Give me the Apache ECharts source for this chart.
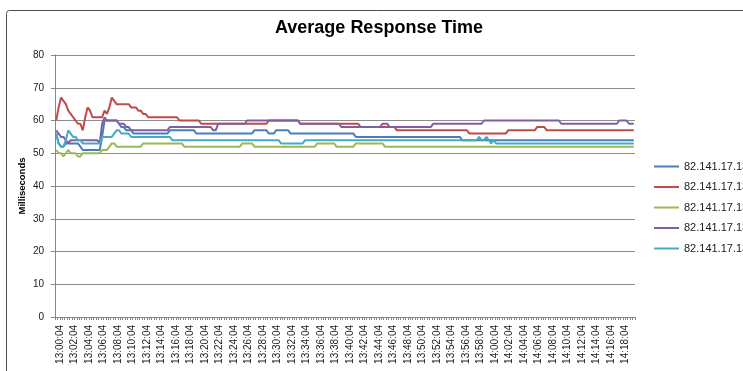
<!DOCTYPE html>
<html>
<head>
<meta charset="utf-8">
<script src="https://cdn.jsdelivr.net/npm/echarts@6/dist/echarts.min.js"></script>
<style>
  html, body { margin: 0; padding: 0; background: #ffffff; }
  #chart { width: 743px; height: 371px; }
</style>
</head>
<body>
<div id="chart"></div>
<script>
// Sample times: one reading every 20 seconds from 13:00:04
const times = [];
for (let m = 0; m < 80; m++) {
  for (const s of ['04', '24', '44']) {
    const h = 13 + Math.floor(m / 60);
    times.push(h + ':' + String(m % 60).padStart(2, '0') + ':' + s);
  }
}

const serverNames = ['82.141.17.131', '82.141.17.132', '82.141.17.133', '82.141.17.134', '82.141.17.135'];

// Average response time per server (ms)
const server1 = [
  56,53,52,52,53,53,53,53,53,53, 52,51,51,51,51,51,51,51,51,55,
  60,60,60,60,60,60,59,58,58,57, 57,57,56,56,56,56,56,56,56,56,
  56,56,56,56,56,56,56,57,57,57, 57,57,57,57,57,57,57,57,56,56,
  56,56,56,56,56,56,56,56,56,56, 56,56,56,56,56,56,56,56,56,56,
  56,56,57,57,57,57,57,57,56,56, 56,57,57,57,57,57,57,56,56,56,
  56,56,56,56,56,56,56,56,56,56, 56,56,56,56,56,56,56,56,56,56,
  56,56,56,56,55,55,55,55,55,55, 55,55,55,55,55,55,55,55,55,55,
  55,55,55,55,55,55,55,55,55,55, 55,55,55,55,55,55,55,55,55,55,
  55,55,55,55,55,55,55,55,54,54, 54,54,54,54,54,54,54,54,54,54,
  54,54,54,54,54,54,54,54,54,54, 54,54,54,54,54,54,54,54,54,54,
  54,54,54,54,54,54,54,54,54,54, 54,54,54,54,54,54,54,54,54,54,
  54,54,54,54,54,54,54,54,54,54, 54,54,54,54,54,54,54,54,54,54
];
const server2 = [
  60,64,67,66,65,63,62,61,60,59, 59,57,61,64,63,61,61,61,61,61,
  63,62,64,67,66,65,65,65,65,65, 65,64,64,64,63,63,62,62,61,61,
  61,61,61,61,61,61,61,61,61,61, 61,60,60,60,60,60,60,60,60,60,
  59,59,59,59,59,59,59,59,59,59, 59,59,59,59,59,59,59,59,59,59,
  59,59,59,59,59,59,59,59,60,60, 60,60,60,60,60,60,60,60,60,60,
  60,59,59,59,59,59,59,59,59,59, 59,59,59,59,59,59,59,59,59,59,
  59,59,59,59,59,59,58,58,58,58, 58,58,58,58,58,58,58,58,58,58,
  58,57,57,57,57,57,57,57,57,57, 57,57,57,57,57,57,57,57,57,57,
  57,57,57,57,57,57,57,57,57,57, 57,56,56,56,56,56,56,56,56,56,
  56,56,56,56,56,56,56,57,57,57, 57,57,57,57,57,57,57,57,57,58,
  58,58,58,57,57,57,57,57,57,57, 57,57,57,57,57,57,57,57,57,57,
  57,57,57,57,57,57,57,57,57,57, 57,57,57,57,57,57,57,57,57,57
];
const server3 = [
  51,50,50,49,50,51,50,50,50,49, 49,50,50,50,50,50,50,50,50,51,
  51,51,52,53,53,52,52,52,52,52, 52,52,52,52,52,52,53,53,53,53,
  53,53,53,53,53,53,53,53,53,53, 53,53,53,52,52,52,52,52,52,52,
  52,52,52,52,52,52,52,52,52,52, 52,52,52,52,52,52,52,53,53,53,
  53,53,52,52,52,52,52,52,52,52, 52,52,52,52,52,52,52,52,52,52,
  52,52,52,52,52,52,52,52,53,53, 53,53,53,53,53,53,52,52,52,52,
  52,52,52,52,53,53,53,53,53,53, 53,53,53,53,53,53,52,52,52,52,
  52,52,52,52,52,52,52,52,52,52, 52,52,52,52,52,52,52,52,52,52,
  52,52,52,52,52,52,52,52,52,52, 52,52,52,52,52,52,52,52,52,52,
  52,52,52,52,52,52,52,52,52,52, 52,52,52,52,52,52,52,52,52,52,
  52,52,52,52,52,52,52,52,52,52, 52,52,52,52,52,52,52,52,52,52,
  52,52,52,52,52,52,52,52,52,52, 52,52,52,52,52,52,52,52,52,52
];
const server4 = [
  57,56,55,55,54,53,54,54,54,54, 54,54,54,54,54,54,54,54,53,59,
  61,60,60,60,60,60,59,59,59,58, 58,57,57,57,57,57,57,57,57,57,
  57,57,57,57,57,57,57,58,58,58, 58,58,58,58,58,58,58,58,58,58,
  58,58,58,58,58,57,57,59,59,59, 59,59,59,59,59,59,59,59,59,60,
  60,60,60,60,60,60,60,60,60,60, 60,60,60,60,60,60,60,60,60,60,
  60,59,59,59,59,59,59,59,59,59, 59,59,59,59,59,59,59,59,58,58,
  58,58,58,58,58,58,58,58,58,58, 58,58,58,58,58,59,59,59,58,58,
  58,58,58,58,58,58,58,58,58,58, 58,58,58,58,58,58,59,59,59,59,
  59,59,59,59,59,59,59,59,59,59, 59,59,59,59,59,59,59,60,60,60,
  60,60,60,60,60,60,60,60,60,60, 60,60,60,60,60,60,60,60,60,60,
  60,60,60,60,60,60,60,60,60,59, 59,59,59,59,59,59,59,59,59,59,
  59,59,59,59,59,59,59,59,59,59, 59,59,59,60,60,60,60,59,59,59
];
const server5 = [
  56,53,52,52,54,57,56,55,55,54, 54,53,53,53,53,53,53,53,53,55,
  55,55,55,55,56,57,57,56,56,56, 56,55,55,55,55,55,55,55,55,55,
  55,55,55,55,55,55,55,55,54,54, 54,54,54,54,54,54,54,54,54,54,
  54,54,54,54,54,54,54,54,54,54, 54,54,54,54,54,54,54,54,54,54,
  54,54,54,54,54,54,54,54,54,54, 54,54,54,53,53,53,53,53,53,53,
  53,53,53,54,54,54,54,54,54,54, 54,54,54,54,54,54,54,54,54,54,
  54,54,54,54,54,54,54,54,54,54, 54,54,54,54,54,54,54,54,54,54,
  54,54,54,54,54,54,54,54,54,54, 54,54,54,54,54,54,54,54,54,54,
  54,54,54,54,54,54,54,54,54,54, 54,54,54,54,54,55,54,54,55,54,
  53,54,53,53,53,53,53,53,53,53, 53,53,53,53,53,53,53,53,53,53,
  53,53,53,53,53,53,53,53,53,53, 53,53,53,53,53,53,53,53,53,53,
  53,53,53,53,53,53,53,53,53,53, 53,53,53,53,53,53,53,53,53,53
];

const seriesValues = [server1, server2, server3, server4, server5];
const lineColors = ['#4A7EBB', '#BE4B48', '#98B954', '#7D60A0', '#46AAC5'];
const yTicks = { min: 0, max: 80, step: 10 };

const font = 'Liberation Sans, Arial, sans-serif';
const chart = echarts.init(document.getElementById('chart'), null, { renderer: 'canvas' });

chart.setOption({
  animation: false,
  backgroundColor: '#ffffff',
  title: {
    text: 'Average Response Time',
    left: 275,
    top: 19,
    padding: 0,
    textStyle: { fontFamily: font, fontSize: 18, fontWeight: 'bold', color: '#000000' }
  },
  graphic: [{
    type: 'rect',
    silent: true,
    shape: { x: 6.5, y: 10.5, width: 900, height: 600, r: 3 },
    style: { fill: 'none', stroke: '#4d4d4d', lineWidth: 1 }
  }],
  legend: {
    orient: 'vertical',
    left: 654,
    top: 161,
    padding: 0,
    itemWidth: 25,
    itemHeight: 2,
    itemGap: 9.5,
    icon: 'rect',
    textStyle: { fontFamily: font, fontSize: 11, color: '#1a1a1a', width: 120, overflow: 'none' },
    data: serverNames
  },
  grid: { left: 55, top: 55, width: 580, height: 262, containLabel: false },
  xAxis: {
    type: 'category',
    data: times,
    boundaryGap: true,
    axisLine: { lineStyle: { color: '#868686', width: 1 } },
    axisTick: { show: true, interval: 0, length: 3, lineStyle: { color: '#868686' } },
    axisLabel: {
      interval: 5,
      rotate: 90,
      margin: 8,
      verticalAlign: 'top',
      lineHeight: 8,
      fontFamily: font,
      fontSize: 10,
      color: '#1a1a1a'
    },
    splitLine: { show: false }
  },
  yAxis: {
    type: 'value',
    min: yTicks.min,
    max: yTicks.max,
    interval: yTicks.step,
    name: 'Milliseconds',
    nameLocation: 'middle',
    nameRotate: 90,
    nameGap: 28,
    nameMoveOverlap: false,
    nameTextStyle: { fontFamily: font, fontSize: 9.5, fontWeight: 'bold', color: '#000000' },
    axisLine: { show: true, lineStyle: { color: '#868686', width: 1 } },
    axisTick: { show: true, length: 4, lineStyle: { color: '#868686' } },
    axisLabel: { margin: 11, fontFamily: font, fontSize: 10, color: '#1a1a1a' },
    splitLine: { show: true, lineStyle: { color: '#8c8c8c', width: 1 } }
  },
  series: seriesValues.map((vals, k) => ({
    name: serverNames[k],
    type: 'line',
    data: vals,
    symbol: 'none',
    smooth: false,
    lineStyle: { color: lineColors[k], width: 2 },
    itemStyle: { color: lineColors[k] }
  }))
});
</script>
</body>
</html>
